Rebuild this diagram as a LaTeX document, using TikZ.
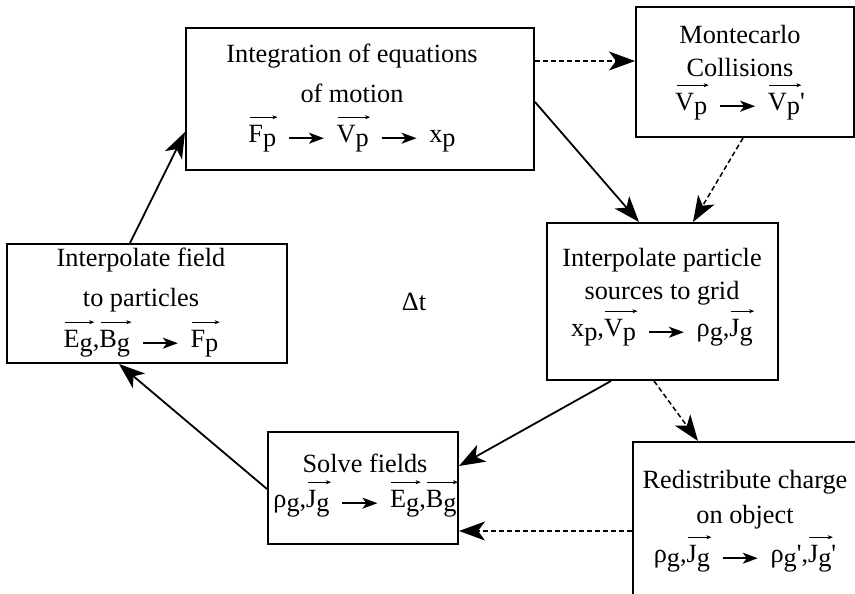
\documentclass[tikz,border=0pt]{standalone}
\usepackage{fontspec}
\setmainfont{LiberationSerif}[Extension=.ttf, UprightFont=*-Regular, BoldFont=*-Bold]
\usetikzlibrary{arrows.meta,calc}
\newsavebox\vbx
\newlength\vbw
\newcommand\vv[1]{\sbox\vbx{#1}\setlength\vbw{\wd\vbx}\makebox[0pt][l]{\hspace{1pt}\raisebox{23pt}[0pt][0pt]{\tikz\draw[line width=0.6pt,-{Stealth[length=5pt,width=4pt,inset=1.5pt]}] (0pt,0pt)--(\vbw,0pt);}}\usebox\vbx}
\newcommand\dn[1]{\raisebox{-4pt}{#1}}
\newcommand\goes{\hspace{12pt}\tikz[baseline=-4pt]\draw[line width=1.5pt,-{Stealth[length=15pt,width=11pt,inset=4pt]}] (0pt,0pt)--(35pt,0pt);\hspace{12pt}}
\newcommand\tstrut{\rule{0pt}{22pt}}
\begin{document}
\begin{tikzpicture}[x=1pt,y=-1pt,
  box/.style={draw, rectangle, line width=2pt, inner sep=0pt},
  txt/.style={align=center, inner sep=0pt, anchor=north, font=\fontsize{26.3}{33}\selectfont},
  conn/.style={line width=1.8pt, -{Stealth[length=26pt,width=19pt,inset=7pt]}},
  dconn/.style={conn, line width=1.5pt, dash pattern=on 5pt off 3pt}]
\useasboundingbox (0,0) rectangle (855,594);
\clip (0,0) rectangle (855,594);
% boxes
\node[box, minimum width=348pt, minimum height=142pt] (integ) at (360,99) {};
\node[box, minimum width=218pt, minimum height=130pt] (monte) at (745,72) {};
\node[box, minimum width=231pt, minimum height=157pt] (ipart) at (662.5,301.5) {};
\node[box, minimum width=267pt, minimum height=208pt] (redist) at (766.5,546) {};
\node[box, minimum width=280pt, minimum height=119pt] (intfield) at (147,303.5) {};
\node[box, minimum width=190pt, minimum height=112pt] (solve) at (363,488) {};
% texts
\node[txt] (integ-t) at (352,40) {\tstrut Integration of equations\\[7pt]of motion\\[7pt]\vv{F\dn{p}}\goes\vv{V\dn{p}}\goes x\dn{p}};
\node[txt] (monte-t) at (740,21) {\tstrut Montecarlo\\Collisions\\[1pt]\vv{V\dn{p}}\goes\vv{V\dn{p}}\textquotesingle};
\node[txt] (ipart-t) at (662,244) {\tstrut Interpolate particle\\sources to grid\\[4pt]x\dn{p},\vv{V\dn{p}}\goes ρ\dn{g},\vv{J\dn{g}}};
\node[txt] (redist-t) at (745,466) {\tstrut Redistribute charge\\[2pt]on object\\[6pt]ρ\dn{g},\vv{J\dn{g}}\goes ρ\dn{g}\textquotesingle,\vv{J\dn{g}}\textquotesingle};
\node[txt] (intfield-t) at (141,244) {\tstrut Interpolate field\\[7pt]to particles\\[8pt]\vv{E\dn{g}},\vv{B\dn{g}}\goes\vv{F\dn{p}}};
\node[txt] (solve-t) at (365,450) {\tstrut Solve fields\\[2pt]ρ\dn{g},\vv{J\dn{g}}\goes\vv{E\dn{g}},\vv{B\dn{g}}};
\node[anchor=base, inner sep=0pt, font=\fontsize{26.3}{33}\selectfont] (dt) at (414,310) {Δt};
% connectors
\draw[conn] ($(intfield.north west)+(124,0)$) -- ($(integ.north west)+(0,105)$);
\draw[dconn] ($(integ.north east)+(0,34)$) -- ($(monte.north west)+(0,55)$);
\draw[conn] ($(integ.north east)+(0,75)$) -- ($(ipart.north west)+(93,0)$);
\draw[dconn] ($(monte.south west)+(108,0)$) -- ($(ipart.north west)+(147,0)$);
\draw[conn] ($(ipart.south west)+(65,0)$) -- ($(solve.north east)+(0,35)$);
\draw[dconn] ($(ipart.south west)+(108,0)$) -- ($(redist.north west)+(66,0)$);
\draw[dconn] ($(redist.north west)+(0,90)$) -- ($(solve.north east)+(0,100)$);
\draw[conn] ($(solve.north west)+(0,58)$) -- ($(intfield.south west)+(113,0)$);
\end{tikzpicture}
\end{document}
